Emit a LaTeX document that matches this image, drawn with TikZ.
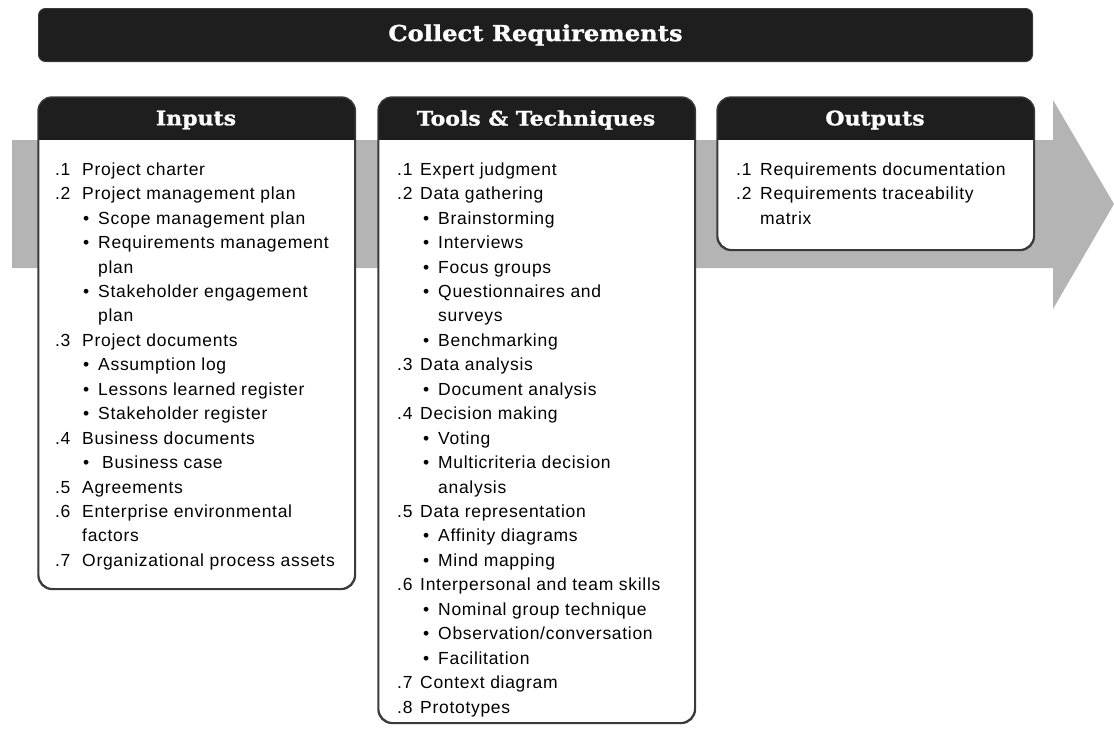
\documentclass[tikz,border=0pt]{standalone}
\usepackage{fontspec}
\setmainfont{Liberation Sans}[LetterSpace=4]
\newfontfamily\slab{DejaVu Serif}[FakeStretch=1.1, BoldFeatures={FakeBold=1.2}]
\definecolor{arrowgray}{HTML}{B4B4B4}
\definecolor{hdr}{HTML}{1E1E1E}
\definecolor{rim}{HTML}{3A3A3A}
\newcommand\numln[3]{\makebox[#1pt][l]{#2}#3}
\newcommand\bulln[3]{\hspace*{#1pt}\makebox[#2pt][l]{\textbullet}#3}
\newcommand\contln[2]{\hspace*{#1pt}#2}
\tikzset{
  panel/.style={draw=rim, line width=1.4pt, fill=white, rounded corners=14pt,
    inner sep=0pt, anchor=north west},
  titlebar/.style={fill=hdr, draw=rim, line width=1pt, rounded corners=7pt,
    inner sep=0pt, anchor=north west},
  hdrtext/.style={text=white, font=\slab\bfseries\fontsize{20}{24}\selectfont},
  listtext/.style={anchor=north west, inner sep=0pt, align=left, text=black,
    font=\fontsize{17.5}{24.45}\selectfont},
}
\begin{document}
\begin{tikzpicture}[x=1pt,y=-1pt]
\useasboundingbox (0,0) rectangle (1114,731);
% big gray arrow
\fill[arrowgray] (12,140) -- (1053,140) -- (1053,100) -- (1114,204) -- (1053,309)
  -- (1053,268) -- (12,268) -- cycle;
% title bar
\node[titlebar, minimum width=994pt, minimum height=53pt] (title) at (38,8) {};
\node[hdrtext, font=\slab\bfseries\fontsize{22}{26}\selectfont] at (title.center) {Collect Requirements};
% panels
\node[panel, minimum width=316pt, minimum height=491pt] (inputs) at (38,97) {};
\node[panel, minimum width=316pt, minimum height=625pt] (tools) at (378,97) {};
\node[panel, minimum width=316pt, minimum height=152pt] (outputs) at (717,97) {};
\foreach \p in {inputs,tools,outputs}{
  \begin{scope}
    \clip[rounded corners=14pt] (\p.north west) rectangle (\p.south east);
    \fill[hdr] (\p.north west) rectangle ([yshift=-43pt]\p.north east);
  \end{scope}
  \draw[draw=rim, line width=1.4pt, rounded corners=14pt] (\p.north west) rectangle (\p.south east);
}
\node[hdrtext] (inh) at (196,120) {Inputs};
\node[hdrtext] (toh) at (536,120) {Tools \& Techniques};
\node[hdrtext] (ouh) at (875,120) {Outputs};
% inputs list
\node[listtext] (inlist) at (55,162) {\rule{0pt}{13pt}\numln{27}{.1}{Project charter}\\
\numln{27}{.2}{Project management plan}\\
\bulln{28}{15}{Scope management plan}\\
\bulln{28}{15}{Requirements management}\\
\contln{43}{plan}\\
\bulln{28}{15}{Stakeholder engagement}\\
\contln{43}{plan}\\
\numln{27}{.3}{Project documents}\\
\bulln{28}{15}{Assumption log}\\
\bulln{28}{15}{Lessons learned register}\\
\bulln{28}{15}{Stakeholder register}\\
\numln{27}{.4}{Business documents}\\
\bulln{28}{19}{Business case}\\
\numln{27}{.5}{Agreements}\\
\numln{27}{.6}{Enterprise environmental}\\
\contln{27}{factors}\\
\numln{27}{.7}{Organizational process assets}};
% tools list
\node[listtext] (tolist) at (397,162) {\rule{0pt}{13pt}\numln{23}{.1}{Expert judgment}\\
\numln{23}{.2}{Data gathering}\\
\bulln{26}{15}{Brainstorming}\\
\bulln{26}{15}{Interviews}\\
\bulln{26}{15}{Focus groups}\\
\bulln{26}{15}{Questionnaires and}\\
\contln{41}{surveys}\\
\bulln{26}{15}{Benchmarking}\\
\numln{23}{.3}{Data analysis}\\
\bulln{26}{15}{Document analysis}\\
\numln{23}{.4}{Decision making}\\
\bulln{26}{15}{Voting}\\
\bulln{26}{15}{Multicriteria decision}\\
\contln{41}{analysis}\\
\numln{23}{.5}{Data representation}\\
\bulln{26}{15}{Affinity diagrams}\\
\bulln{26}{15}{Mind mapping}\\
\numln{23}{.6}{Interpersonal and team skills}\\
\bulln{26}{15}{Nominal group technique}\\
\bulln{26}{15}{Observation/conversation}\\
\bulln{26}{15}{Facilitation}\\
\numln{23}{.7}{Context diagram}\\
\numln{23}{.8}{Prototypes}};
% outputs list
\node[listtext] (oulist) at (736,162) {\rule{0pt}{13pt}\numln{24}{.1}{Requirements documentation}\\
\numln{24}{.2}{Requirements traceability}\\
\contln{24}{matrix}};
\end{tikzpicture}
\end{document}
